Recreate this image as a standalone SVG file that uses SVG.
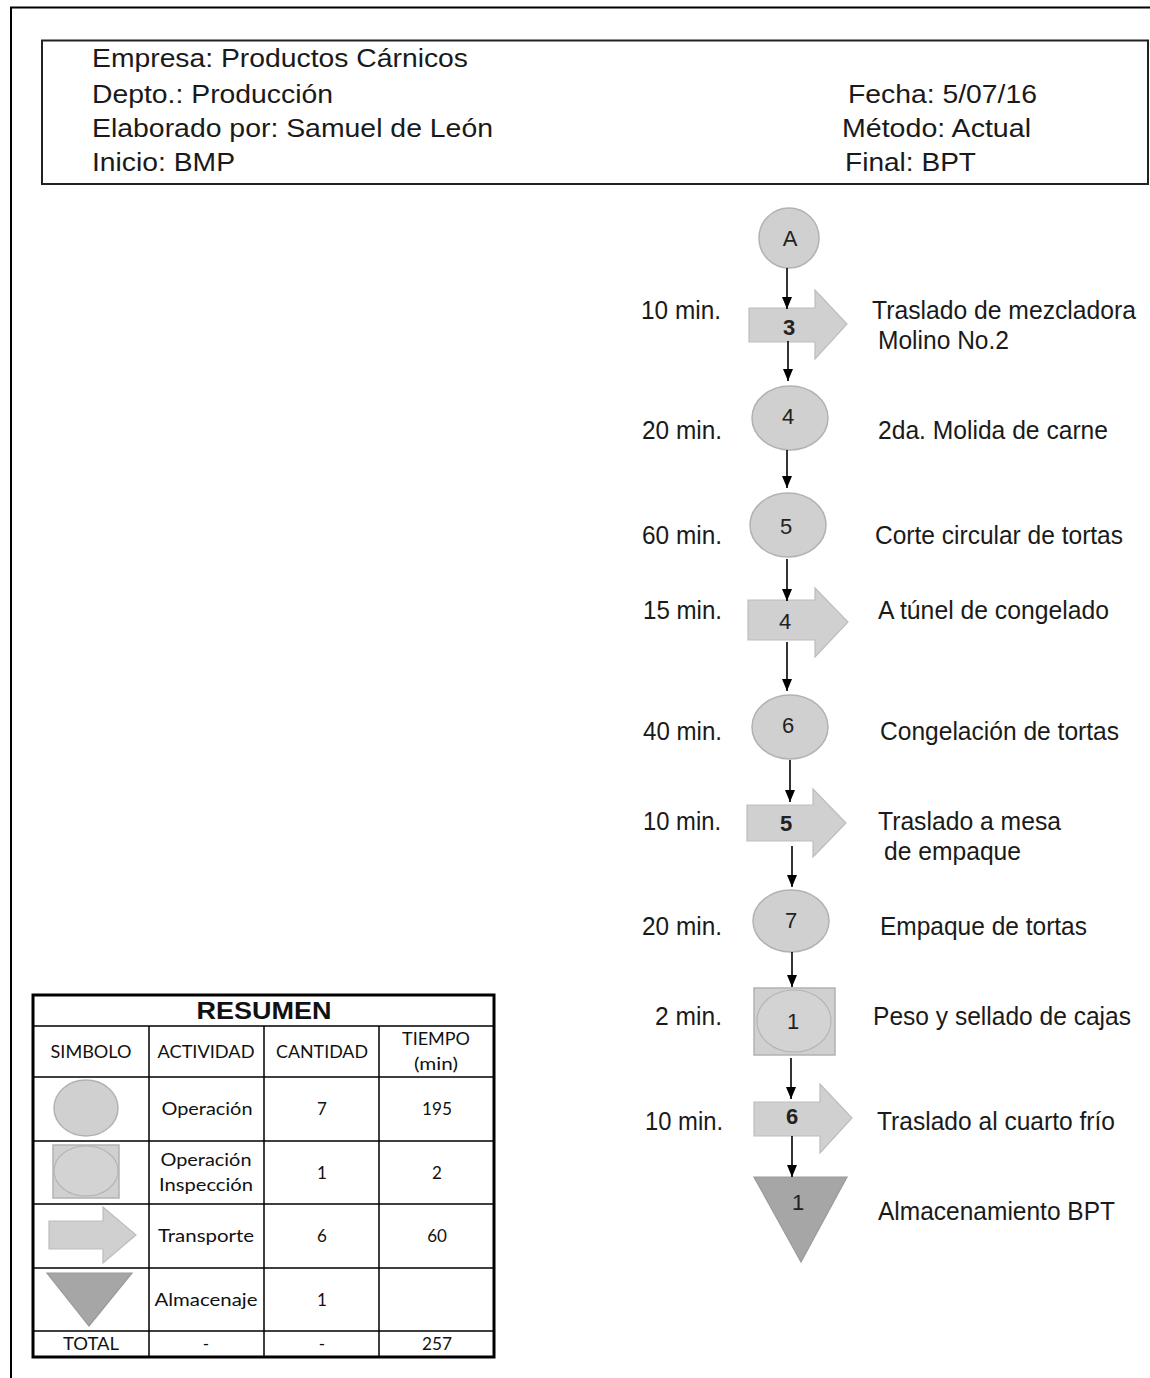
<svg xmlns="http://www.w3.org/2000/svg" width="1150" height="1378" viewBox="0 0 1150 1378">
<defs>
<style>
.hd{font-family:"Liberation Sans",Arial,sans-serif;font-size:25px;fill:#1a1a1a}
.lb{font-family:"Liberation Sans",Arial,sans-serif;font-size:26px;fill:#1a1a1a}
.tm{font-family:"Liberation Sans",Arial,sans-serif;font-size:26px;fill:#1a1a1a;text-anchor:end}
.num{font-family:"Liberation Sans",Arial,sans-serif;font-size:22px;fill:#222;text-anchor:middle}
.tb{font-family:Lato,"Open Sans",sans-serif;font-size:17px;fill:#111;text-anchor:middle}
.op{fill:#d0d0d0;stroke:#b2b2b2;stroke-width:1.5}
.tr{fill:#d0d0d0;stroke:#bdbdbd;stroke-width:1.2}
.st{fill:#a6a6a6;stroke:#9a9a9a;stroke-width:1.2}
.cn{stroke:#000;stroke-width:1.6;fill:none}
.grid{stroke:#000;stroke-width:1.5;fill:none}
</style>
<marker id="ah" viewBox="0 0 12 10" refX="12" refY="5" markerWidth="12" markerHeight="10" markerUnits="userSpaceOnUse" orient="auto">
<path d="M0,0 L12,5 L0,10 Z" fill="#000"/>
</marker>
</defs>
<rect width="1150" height="1378" fill="#fff"/>
<!-- outer frame -->
<path d="M11,1378 V7.5 H1150" stroke="#000" stroke-width="2" fill="none"/>

<g id="header">
<rect x="42" y="40.5" width="1106" height="143.5" fill="#fff" stroke="#222" stroke-width="2"/>
<text class="hd" x="92" y="67" textLength="376" lengthAdjust="spacingAndGlyphs">Empresa: Productos Cárnicos</text>
<text class="hd" x="92" y="103" textLength="241" lengthAdjust="spacingAndGlyphs">Depto.: Producción</text>
<text class="hd" x="92" y="137" textLength="401" lengthAdjust="spacingAndGlyphs">Elaborado por: Samuel de León</text>
<text class="hd" x="92" y="171" textLength="143" lengthAdjust="spacingAndGlyphs">Inicio: BMP</text>
<text class="hd" x="848" y="103" textLength="189" lengthAdjust="spacingAndGlyphs">Fecha: 5/07/16</text>
<text class="hd" x="842" y="137" textLength="189" lengthAdjust="spacingAndGlyphs">Método: Actual</text>
<text class="hd" x="845" y="171" textLength="131" lengthAdjust="spacingAndGlyphs">Final: BPT</text>
</g>

<g id="nodeA">
<circle class="op" cx="789" cy="238" r="30"/>
<text class="num" x="790" y="246" font-size="20">A</text>
</g>

<g id="t3">
<path class="tr" d="M749,308 H815 V290 L847,324 L815,359 V342 H749 Z"/>
<text class="num" x="789" y="335" font-size="23" font-weight="bold" fill="#444">3</text>
<text class="tm" x="721" y="319" textLength="80" lengthAdjust="spacingAndGlyphs">10 min.</text>
<text class="lb" x="872" y="319" textLength="264" lengthAdjust="spacingAndGlyphs">Traslado de mezcladora</text>
<text class="lb" x="878" y="349" textLength="131" lengthAdjust="spacingAndGlyphs">Molino No.2</text>
</g>

<g id="op4">
<ellipse class="op" cx="790" cy="418" rx="38" ry="32"/>
<text class="num" x="788" y="424">4</text>
<text class="tm" x="722" y="439" textLength="80" lengthAdjust="spacingAndGlyphs">20 min.</text>
<text class="lb" x="878" y="439" textLength="230" lengthAdjust="spacingAndGlyphs">2da. Molida de carne</text>
</g>

<g id="op5">
<ellipse class="op" cx="788" cy="525" rx="38" ry="32"/>
<text class="num" x="786" y="534">5</text>
<text class="tm" x="722" y="544" textLength="80" lengthAdjust="spacingAndGlyphs">60 min.</text>
<text class="lb" x="875" y="544" textLength="248" lengthAdjust="spacingAndGlyphs">Corte circular de tortas</text>
</g>

<g id="t4">
<path class="tr" d="M748,600 H815 V588 L848,622 L815,657 V640 H748 Z"/>
<text class="num" x="785" y="629" font-size="18">4</text>
<text class="tm" x="722" y="619" textLength="79" lengthAdjust="spacingAndGlyphs">15 min.</text>
<text class="lb" x="878" y="619" textLength="231" lengthAdjust="spacingAndGlyphs">A túnel de congelado</text>
</g>

<g id="op6">
<ellipse class="op" cx="790" cy="727" rx="38" ry="32"/>
<text class="num" x="788" y="733">6</text>
<text class="tm" x="722" y="740" textLength="79" lengthAdjust="spacingAndGlyphs">40 min.</text>
<text class="lb" x="880" y="740" textLength="239" lengthAdjust="spacingAndGlyphs">Congelación de tortas</text>
</g>

<g id="t5">
<path class="tr" d="M747,805 H813 V789 L846,823 L813,857 V841 H747 Z"/>
<text class="num" x="786" y="831" font-size="21" font-weight="bold" fill="#333">5</text>
<text class="tm" x="721" y="830" textLength="78" lengthAdjust="spacingAndGlyphs">10 min.</text>
<text class="lb" x="878" y="830" textLength="183" lengthAdjust="spacingAndGlyphs">Traslado a mesa</text>
<text class="lb" x="884" y="860" textLength="137" lengthAdjust="spacingAndGlyphs">de empaque</text>
</g>

<g id="op7">
<ellipse class="op" cx="791" cy="921" rx="38" ry="31"/>
<text class="num" x="791" y="928">7</text>
<text class="tm" x="722" y="935" textLength="80" lengthAdjust="spacingAndGlyphs">20 min.</text>
<text class="lb" x="880" y="935" textLength="207" lengthAdjust="spacingAndGlyphs">Empaque de tortas</text>
</g>

<g id="oi1">
<rect class="op" x="754" y="988" width="81" height="67"/>
<ellipse fill="#d3d3d3" stroke="#b5b5b5" stroke-width="1.2" cx="794" cy="1021" rx="37" ry="31"/>
<text class="num" x="793" y="1029" font-size="23" fill="#111">1</text>
<text class="tm" x="722" y="1025" textLength="67" lengthAdjust="spacingAndGlyphs">2 min.</text>
<text class="lb" x="873" y="1025" textLength="258" lengthAdjust="spacingAndGlyphs">Peso y sellado de cajas</text>
</g>

<g id="t6">
<path class="tr" d="M754,1102 H820 V1084 L852,1118 L820,1153 V1136 H754 Z"/>
<text class="num" x="792" y="1124" font-size="17" font-weight="bold" fill="#333">6</text>
<text class="tm" x="723" y="1130" textLength="78" lengthAdjust="spacingAndGlyphs">10 min.</text>
<text class="lb" x="877" y="1130" textLength="238" lengthAdjust="spacingAndGlyphs">Traslado al cuarto frío</text>
</g>

<g id="alm1">
<path class="st" d="M754,1177 H847 L801,1262 Z"/>
<text class="num" x="798" y="1210" font-size="22" fill="#222">1</text>
<text class="lb" x="878" y="1220" textLength="237" lengthAdjust="spacingAndGlyphs">Almacenamiento BPT</text>
</g>

<g id="connectors">
<line class="cn" x1="787" y1="268" x2="787" y2="309" marker-end="url(#ah)"/>
<line class="cn" x1="788" y1="341" x2="788" y2="381" marker-end="url(#ah)"/>
<line class="cn" x1="787" y1="450" x2="787" y2="488" marker-end="url(#ah)"/>
<line class="cn" x1="787" y1="559" x2="787" y2="601" marker-end="url(#ah)"/>
<line class="cn" x1="787" y1="642" x2="787" y2="691" marker-end="url(#ah)"/>
<line class="cn" x1="790" y1="760" x2="790" y2="802" marker-end="url(#ah)"/>
<line class="cn" x1="792" y1="846" x2="792" y2="887" marker-end="url(#ah)"/>
<line class="cn" x1="792" y1="952" x2="792" y2="987" marker-end="url(#ah)"/>
<line class="cn" x1="791" y1="1058" x2="791" y2="1099" marker-end="url(#ah)"/>
<line class="cn" x1="792" y1="1136" x2="792" y2="1177" marker-end="url(#ah)"/>
</g>

<g id="resumen">
<rect x="33" y="995" width="461" height="362" fill="#fff" stroke="#000" stroke-width="3"/>
<path class="grid" d="M33,1026 H494 M33,1077 H494 M33,1141 H494 M33,1204 H494 M33,1268 H494 M33,1331 H494 M149,1026 V1357 M264,1026 V1357 M379,1026 V1357"/>
<text x="264" y="1019" font-family="'Liberation Sans',Arial,sans-serif" font-size="23" font-weight="bold" fill="#111" text-anchor="middle" textLength="135" lengthAdjust="spacingAndGlyphs">RESUMEN</text>
<text class="tb" x="91" y="1058" textLength="81" lengthAdjust="spacingAndGlyphs">SIMBOLO</text>
<text class="tb" x="206" y="1058" textLength="97" lengthAdjust="spacingAndGlyphs">ACTIVIDAD</text>
<text class="tb" x="322" y="1058" textLength="92" lengthAdjust="spacingAndGlyphs">CANTIDAD</text>
<text class="tb" x="436" y="1045" textLength="68" lengthAdjust="spacingAndGlyphs">TIEMPO</text>
<text class="tb" x="436" y="1070" textLength="44" lengthAdjust="spacingAndGlyphs">(min)</text>
<ellipse class="op" cx="86" cy="1108" rx="32" ry="28"/>
<text class="tb" x="207" y="1115" textLength="91" lengthAdjust="spacingAndGlyphs">Operación</text>
<text class="tb" x="322" y="1115">7</text>
<text class="tb" x="437" y="1115" textLength="30" lengthAdjust="spacingAndGlyphs">195</text>
<rect class="op" x="53" y="1145" width="66" height="53"/>
<ellipse fill="#d3d3d3" stroke="#b5b5b5" stroke-width="1.2" cx="86" cy="1171" rx="32" ry="25"/>
<text class="tb" x="206" y="1166" textLength="91" lengthAdjust="spacingAndGlyphs">Operación</text>
<text class="tb" x="206" y="1191" textLength="94" lengthAdjust="spacingAndGlyphs">Inspección</text>
<text class="tb" x="322" y="1179">1</text>
<text class="tb" x="437" y="1179">2</text>
<path class="tr" d="M49,1221 H103 V1207 L136,1235 L103,1263 V1249 H49 Z"/>
<text class="tb" x="206" y="1242" textLength="96" lengthAdjust="spacingAndGlyphs">Transporte</text>
<text class="tb" x="322" y="1242">6</text>
<text class="tb" x="437" y="1242">60</text>
<path class="st" d="M47,1273 H132 L89,1326 Z"/>
<text class="tb" x="206" y="1306" textLength="103" lengthAdjust="spacingAndGlyphs">Almacenaje</text>
<text class="tb" x="322" y="1306">1</text>
<text class="tb" x="91" y="1350" textLength="56" lengthAdjust="spacingAndGlyphs">TOTAL</text>
<text class="tb" x="206" y="1350">-</text>
<text class="tb" x="322" y="1350">-</text>
<text class="tb" x="437" y="1350" textLength="30" lengthAdjust="spacingAndGlyphs">257</text>
</g>
</svg>
